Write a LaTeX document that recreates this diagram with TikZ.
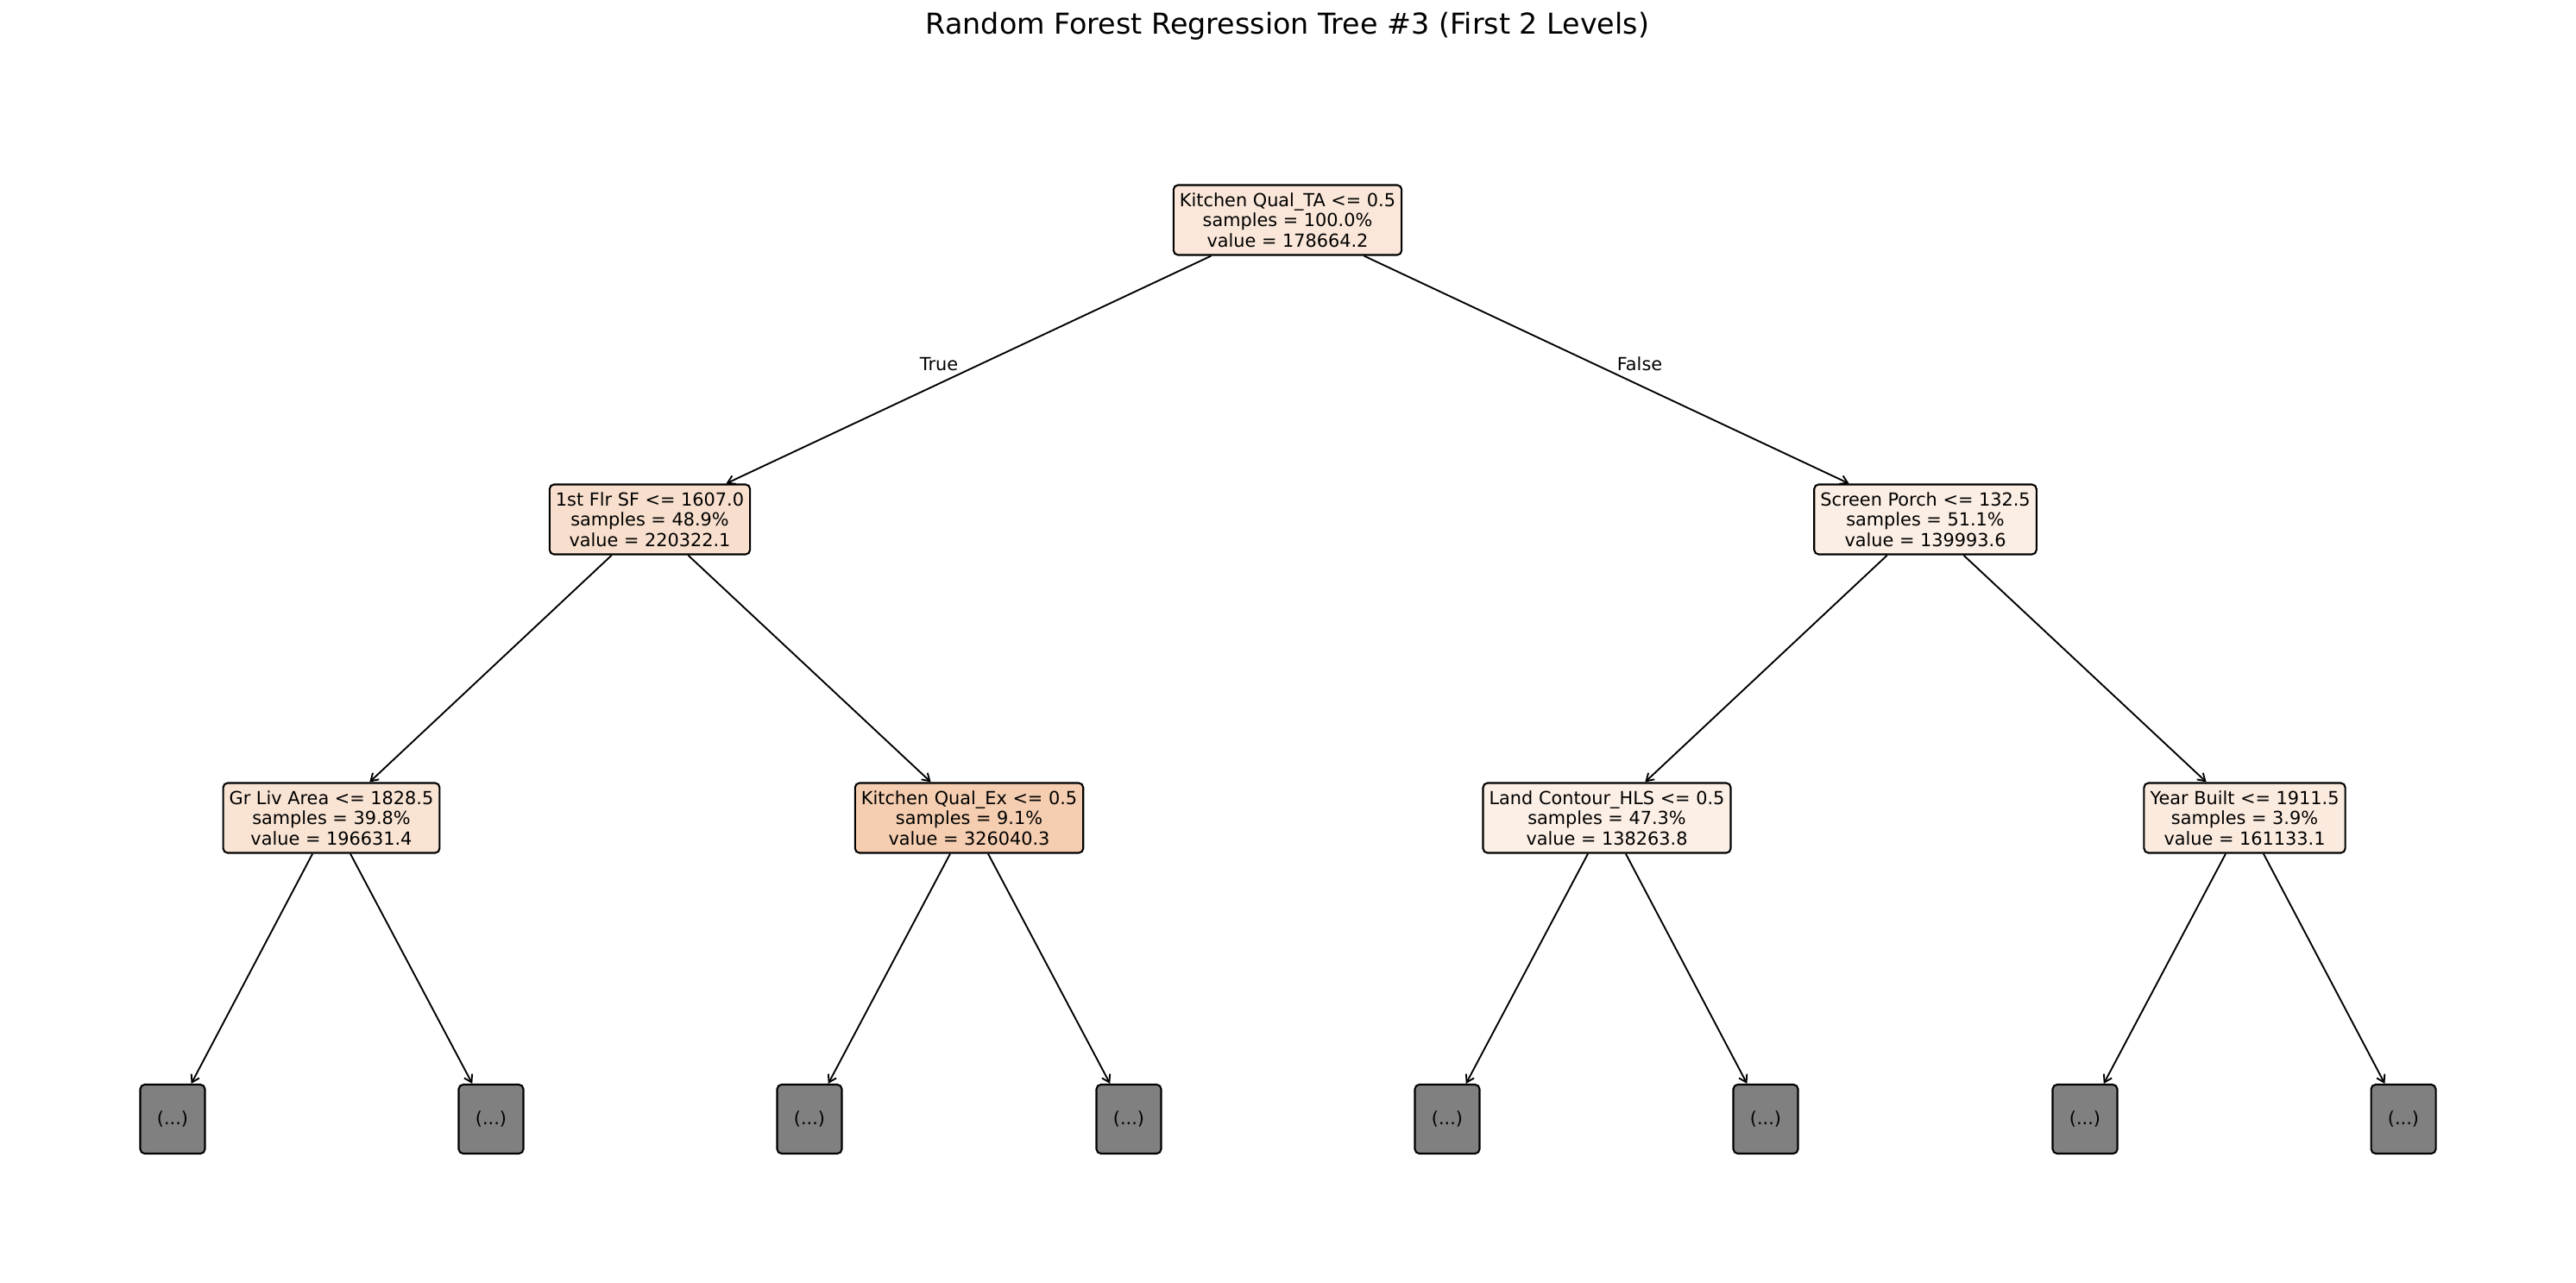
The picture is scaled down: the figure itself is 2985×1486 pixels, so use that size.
\documentclass[tikz,border=0pt]{standalone}
\usepackage{fontspec}
\setmainfont{DejaVu Sans}
\usetikzlibrary{positioning,arrows.meta}
\definecolor{treeorange}{RGB}{229,129,57}

\begin{document}
\begin{tikzpicture}[x=0.48pt,y=-0.48pt,
  split/.style={draw,rounded corners=2.5pt,line width=1pt,align=center,font=\fontsize{10}{11.2}\selectfont,inner xsep=3.4pt,minimum height=38.9pt},
  stub/.style={draw,fill=gray,rounded corners=2.5pt,line width=1pt,minimum width=36pt,minimum height=38.4pt,font=\fontsize{10}{12}\selectfont},
  edge/.style={line width=0.9pt,-{Straight Barb[length=4pt,width=5pt]}},
  lbl/.style={font=\fontsize{10}{12}\selectfont}]
\useasboundingbox (0,0) rectangle (2985,1486);
\node[font=\fontsize{16}{18}\selectfont] (title) at (1492,30) {Random Forest Regression Tree \#3 (First 2 Levels)};
\node[split,fill=treeorange!19] (root) at (1492,255) {Kitchen Qual\_TA <= 0.5\\samples = 100.0\%\\value = 178664.2};
\node[split,fill=treeorange!25] (flr) at (753,602) {1st Flr SF <= 1607.0\\samples = 48.9\%\\value = 220322.1};
\node[split,fill=treeorange!13.5] (porch) at (2231,602) {Screen Porch <= 132.5\\samples = 51.1\%\\value = 139993.6};
\node[split,fill=treeorange!21.5] (grliv) at (384,948) {Gr Liv Area <= 1828.5\\samples = 39.8\%\\value = 196631.4};
\node[split,fill=treeorange!40] (kqex) at (1123,948) {Kitchen Qual\_Ex <= 0.5\\samples = 9.1\%\\value = 326040.3};
\node[split,fill=treeorange!13] (contour) at (1862,948) {Land Contour\_HLS <= 0.5\\samples = 47.3\%\\value = 138263.8};
\node[split,fill=treeorange!16] (built) at (2601,948) {Year Built <= 1911.5\\samples = 3.9\%\\value = 161133.1};
\node[stub] (s1) at (200,1297) {(...)};
\node[stub] (s2) at (569,1297) {(...)};
\node[stub] (s3) at (938,1297) {(...)};
\node[stub] (s4) at (1308,1297) {(...)};
\node[stub] (s5) at (1677,1297) {(...)};
\node[stub] (s6) at (2046,1297) {(...)};
\node[stub] (s7) at (2416,1297) {(...)};
\node[stub] (s8) at (2785,1297) {(...)};
\draw[edge] (root) -- (flr);
\draw[edge] (root) -- (porch);
\draw[edge] (flr) -- (grliv);
\draw[edge] (flr) -- (kqex);
\draw[edge] (porch) -- (contour);
\draw[edge] (porch) -- (built);
\draw[edge] (grliv) -- (s1);
\draw[edge] (grliv) -- (s2);
\draw[edge] (kqex) -- (s3);
\draw[edge] (kqex) -- (s4);
\draw[edge] (contour) -- (s5);
\draw[edge] (contour) -- (s6);
\draw[edge] (built) -- (s7);
\draw[edge] (built) -- (s8);
\node[lbl] (truelbl) at (1088,422) {True};
\node[lbl] (falselbl) at (1900,422) {False};
\end{tikzpicture}
\end{document}
